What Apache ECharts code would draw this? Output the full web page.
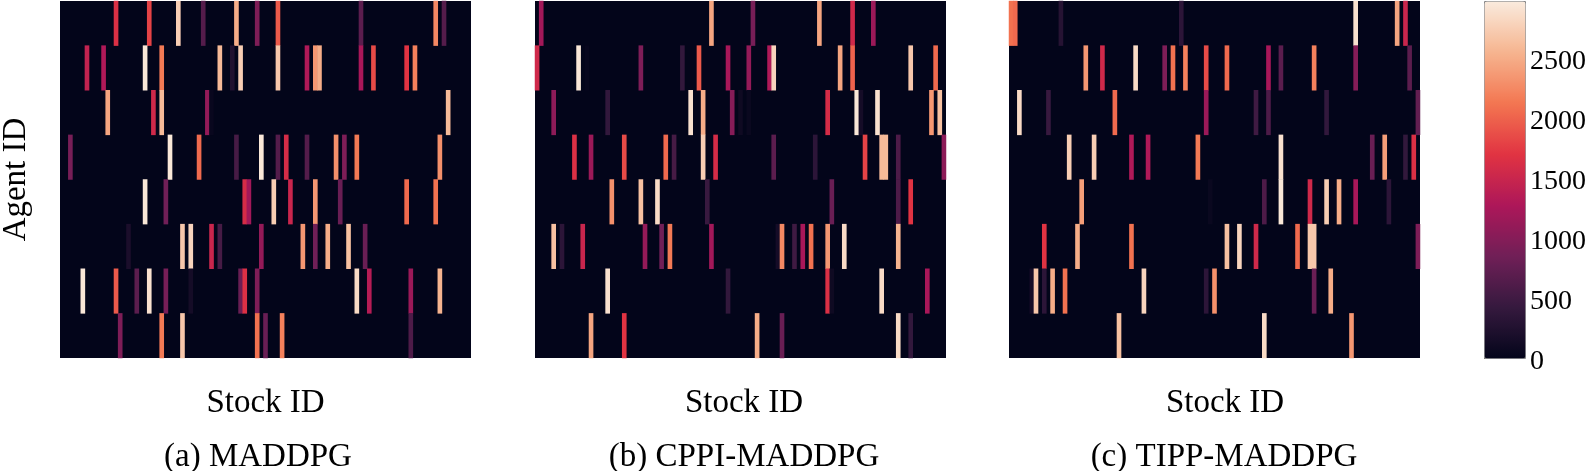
<!DOCTYPE html>
<html><head><meta charset="utf-8">
<script src="https://cdn.jsdelivr.net/npm/echarts@6/dist/echarts.min.js"></script>
<style>html,body{margin:0;padding:0;background:#fff}#c{width:1596px;height:471px}</style>
</head><body><div id="c"></div>
<script>
// Non-zero cells per agent (row): [stockId, value]; every other cell is 0.
const maddpg = [
 [[13,1650],[21,1800],[28,2750],[34,650],[42,2500],[47,950],[52,1950],[72,700],[90,2250],[92,650]],
 [[6,1450],[10,1300],[20,2950],[24,2150],[38,2600],[41,250],[43,2750],[52,2700],[59,1300],[61,2350],[62,2500],[72,1250],[75,1850],[83,1700],[85,2200]],
 [[11,2450],[22,1550],[24,2600],[35,1100],[36,50],[93,2600]],
 [[2,900],[26,2950],[33,2050],[42,550],[48,2950],[52,650],[54,1600],[59,650],[66,2300],[68,950],[71,2150],[91,2300]],
 [[20,2950],[25,850],[44,1600],[45,1200],[51,2750],[55,1500],[61,2350],[67,800],[83,2050],[90,2100]],
 [[16,200],[29,2700],[31,2800],[36,1500],[38,550],[48,1100],[58,2350],[61,850],[64,2500],[69,2650],[73,800]],
 [[5,2950],[13,1950],[18,700],[21,2900],[25,900],[31,150],[43,800],[44,1650],[47,950],[71,2850],[74,1350],[84,1150],[91,2550]],
 [[14,950],[24,2150],[29,2700],[47,2100],[49,800],[53,2200],[84,600]]
];
const cppiMaddpg = [
 [[1,1200],[42,2450],[52,900],[68,2450],[76,1550],[81,1150]],
 [[0,1550],[10,2950],[12,30],[25,950],[35,400],[39,1950],[46,1250],[51,1100],[56,1300],[57,2800],[73,2450],[76,2000],[90,2700],[96,2050]],
 [[4,1050],[17,400],[37,2900],[40,2500],[47,1000],[49,100],[51,60],[70,1600],[77,2950],[78,150],[82,2900],[95,2350],[97,2650]],
 [[9,1650],[13,1150],[21,1850],[31,2050],[33,550],[40,2750],[43,1600],[57,700],[67,350],[79,1800],[83,2600],[84,2600],[87,600],[98,1050]],
 [[18,2300],[25,2650],[29,2850],[41,450],[71,800],[87,600],[90,1700]],
 [[4,2650],[6,350],[11,1500],[26,1100],[30,850],[32,2150],[42,1200],[58,150],[59,2250],[62,500],[64,1250],[66,2100],[70,2350],[74,2850],[87,2550]],
 [[17,2900],[46,400],[70,1650],[71,100],[83,2850],[94,1250]],
 [[13,2450],[21,1700],[53,2500],[59,800],[87,2850],[90,400]]
];
const tippMaddpg = [
 [[0,2100],[1,2050],[12,300],[41,350],[83,2900],[93,2450],[95,1500]],
 [[18,2350],[22,1550],[30,2850],[37,950],[39,2100],[42,2200],[47,1850],[52,2050],[62,1250],[65,700],[73,2200],[83,1000],[96,700]],
 [[2,2850],[9,450],[25,2050],[47,1150],[59,500],[62,600],[76,400],[98,750]],
 [[14,2750],[20,2750],[29,1300],[33,1300],[45,2150],[65,2900],[87,800],[90,2400],[95,400],[97,1650]],
 [[17,2400],[48,60],[61,600],[65,2950],[72,1550],[76,2750],[79,2500],[83,1250],[91,350]],
 [[8,1700],[16,2500],[29,2100],[52,2650],[55,2800],[59,1550],[69,2050],[72,2700],[73,2700],[98,950]],
 [[5,150],[6,2700],[8,350],[10,2500],[13,2100],[32,2800],[47,350],[49,2300],[73,800],[77,2500]],
 [[26,2650],[61,2850],[82,2350]]
];
const stockCount = 99;
const agentCount = 8;
const valueMax = 2975;
const colorbarTicks = [0,500,1000,1500,2000,2500];
const captions = ['(a) MADDPG','(b) CPPI-MADDPG','(c) TIPP-MADDPG'];
const rocket = ['#03051a','#35193e','#701f57','#ad1759','#e13342','#f37651','#f6b48f','#faebdd'];

const panels = [maddpg, cppiMaddpg, tippMaddpg];
const gridLefts = [60, 535, 1009];
const gridWidth = 411, gridTop = 1, gridHeight = 357;
const serif = '"Liberation Serif","Times New Roman",serif';
const stockIds = Array.from({length:stockCount},(_,i)=>i);
const agentIds = Array.from({length:agentCount},(_,i)=>i);

// Zero cells show the grid's background (the colormap's zero colour).
function cells(rows){
  const out=[];
  rows.forEach((row,y)=>row.forEach(([x,v])=>out.push([x,y,v])));
  return out;
}
const nameShift=[0,7,21];
const option={
  animation:false,
  backgroundColor:'#fff',
  textStyle:{fontFamily:serif,color:'#000'},
  grid:[...gridLefts.map(l=>({left:l,top:gridTop,width:gridWidth,height:gridHeight,backgroundColor:rocket[0],show:true,borderWidth:0,outerBoundsMode:'none'})),
        {left:1484,top:gridTop,width:41,height:gridHeight,show:false,outerBoundsMode:'none'}],
  xAxis:[...panels.map((p,i)=>({gridIndex:i,type:'category',data:stockIds,axisLine:{show:false},axisTick:{show:false},axisLabel:{show:false},splitLine:{show:false},
            name:'Stock ID',nameLocation:'middle',nameGap:29,nameTextStyle:{fontFamily:serif,fontSize:33,color:'#000',padding:[0,0,0,nameShift[i]]}})),
         {gridIndex:3,type:'value',show:false}],
  yAxis:[...panels.map((p,i)=>({gridIndex:i,type:'category',inverse:true,data:agentIds,axisLine:{show:false},axisTick:{show:false},axisLabel:{show:false},splitLine:{show:false},
            name:i===0?'Agent ID':'',nameLocation:'middle',nameGap:27,nameTextStyle:{fontFamily:serif,fontSize:33,color:'#000'}})),
         {gridIndex:3,type:'value',position:'right',min:0,max:valueMax,interval:500,
          axisLine:{show:false},axisTick:{show:true,length:3,lineStyle:{color:'#444'}},splitLine:{show:false},
          axisLabel:{margin:5,showMaxLabel:false,
            rich:{t:{fontFamily:serif,fontSize:28,color:'#000',padding:[7,0,0,0]}},
            formatter:v=>colorbarTicks.includes(v)?'{t|'+v+'}':''}}],
  visualMap:{type:'continuous',seriesIndex:[0,1,2],min:0,max:valueMax,calculable:false,realtime:false,
    left:1484,top:gridTop,itemWidth:41,itemHeight:gridHeight,padding:0,text:null,showLabel:false,
    inRange:{color:rocket},hoverLink:false,borderColor:'#888',borderWidth:1},
  title:captions.map((t,i)=>({text:t,left:[258,744,1224][i],top:441,textAlign:'center',
    textStyle:{fontFamily:serif,fontSize:33,fontWeight:'normal',color:'#000'},padding:0})),
  series:[...panels.map((p,i)=>({type:'heatmap',xAxisIndex:i,yAxisIndex:i,data:cells(p),progressive:0,
            itemStyle:{borderWidth:0},emphasis:{disabled:true}})),
          {type:'scatter',xAxisIndex:3,yAxisIndex:3,data:[],silent:true}]
};
echarts.init(document.getElementById('c'),null,{renderer:'canvas'}).setOption(option);
</script></body></html>
